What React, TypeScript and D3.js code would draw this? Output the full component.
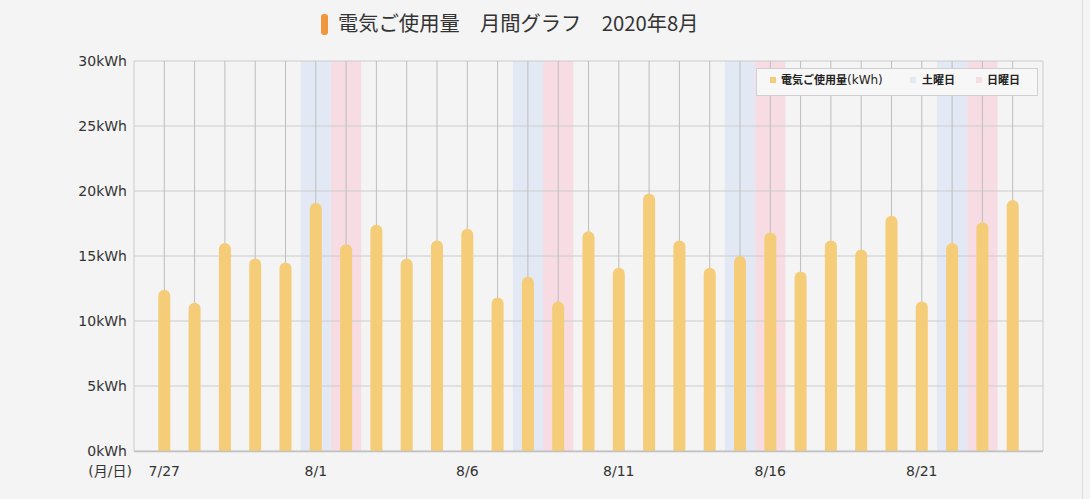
import React from "react";
import * as d3 from "d3";

const dates = ["7/27","7/28","7/29","7/30","7/31","8/1","8/2","8/3","8/4","8/5","8/6","8/7","8/8","8/9","8/10","8/11","8/12","8/13","8/14","8/15","8/16","8/17","8/18","8/19","8/20","8/21","8/22","8/23","8/24"];
const usage = [12.4,11.4,16.0,14.8,14.5,19.1,15.9,17.4,14.8,16.2,17.1,11.8,13.4,11.5,16.9,14.1,19.8,16.2,14.1,15.0,16.8,13.8,16.2,15.5,18.1,11.5,16.0,17.6,19.3];
const saturdays = ["8/1","8/8","8/15","8/22"];
const sundays = ["8/2","8/9","8/16","8/23"];
const xTickLabels = ["7/27","8/1","8/6","8/11","8/16","8/21"];
const yTicks = [0,5,10,15,20,25,30];

const W = 1090, H = 499;
const L = 134, R = 1043, T = 61, B = 451;
const FONT = "'DejaVu Sans', 'Noto Sans CJK JP', sans-serif";
const JFONT = "'Noto Sans CJK JP', 'DejaVu Sans', sans-serif";

export default function App() {
  const x = d3.scalePoint<string>().domain(["_s", ...dates, "_e"]).range([L, R]);
  const step = x.step();
  const y = d3.scaleLinear().domain([0, 30]).range([B, T]);
  const bw = 12;
  const barPath = (cx: number, v: number) => {
    const top = y(v);
    const r = bw / 2;
    const p = d3.path();
    p.moveTo(cx - r, B);
    p.lineTo(cx - r, top + r);
    p.arc(cx, top + r, r, Math.PI, 0);
    p.lineTo(cx + r, B);
    p.closePath();
    return p.toString();
  };
  return (
    <svg width={W} height={H} style={{ position: "absolute", left: 0, top: 0, background: "#f4f4f4" }}>
      <rect x={0} y={0} width={W} height={H} fill="#f4f4f4" />
      <line x1={1082.5} x2={1082.5} y1={0} y2={H} stroke="#dcdcdc" />
      {/* title */}
      <rect x={321} y={14} width={7} height={21} rx={3} fill="#f0963c" />
      <text x={338} y={31} fontSize={20.3} fontFamily={JFONT} fill="#333">電気ご使用量　月間グラフ　2020年8月</text>
      {/* weekend bands */}
      {saturdays.map((d) => (
        <rect key={"sa" + d} x={x(d)! - step / 2} y={T} width={step} height={B - T} fill="#e3e9f4" />
      ))}
      {sundays.map((d) => (
        <rect key={"su" + d} x={x(d)! - step / 2} y={T} width={step} height={B - T} fill="#f7dce3" />
      ))}
      {/* grid */}
      {yTicks.map((t) => (
        <line key={"gy" + t} x1={L} x2={R} y1={y(t)} y2={y(t)} stroke="#cccccc" strokeWidth={1} />
      ))}
      {dates.map((d) => (
        <line key={"gx" + d} x1={x(d)} x2={x(d)} y1={T} y2={B} stroke="#bdbdbd" strokeWidth={1} />
      ))}
      <line x1={L} x2={L} y1={T} y2={B} stroke="#cccccc" />
      <line x1={R} x2={R} y1={T} y2={B} stroke="#cccccc" />
      {/* bars */}
      {dates.map((d, i) => (
        <path key={"b" + d} d={barPath(x(d)!, usage[i])} fill="#f5cc78" />
      ))}
      <line x1={L} x2={R} y1={B + 0.5} y2={B + 0.5} stroke="#c0c0c0" strokeWidth={1.5} />
      {/* y labels */}
      {yTicks.map((t) => (
        <text key={"yl" + t} x={127} y={y(t)} dy="0.35em" textAnchor="end" fontSize={14} fontFamily={FONT} fill="#333">{t}kWh</text>
      ))}
      {/* x labels */}
      <text x={132} y={476} textAnchor="end" fontSize={14} fontFamily={FONT} fill="#333">(月/日)</text>
      {xTickLabels.map((d) => (
        <text key={"xl" + d} x={x(d)} y={476} textAnchor="middle" fontSize={14} fontFamily={FONT} fill="#333">{d}</text>
      ))}
      {/* legend */}
      <rect x={756.5} y={68.5} width={281} height={27} fill="#f7f7f7" stroke="#d0d0d0" />
      <rect x={770} y={77} width={6} height={6} fill="#f5cc78" />
      <text x={781} y={80} dy="0.35em" fontSize={11} fontWeight="bold" fontFamily={JFONT} fill="#222">電気ご使用量<tspan fontFamily={FONT} fontSize={12} fontWeight="normal">(kWh)</tspan></text>
      <rect x={910} y={77} width={6} height={6} fill="#e3e9f4" />
      <text x={922} y={80} dy="0.35em" fontSize={11} fontWeight="bold" fontFamily={JFONT} fill="#222">土曜日</text>
      <rect x={976} y={77} width={6} height={6} fill="#f7dce3" />
      <text x={987} y={80} dy="0.35em" fontSize={11} fontWeight="bold" fontFamily={JFONT} fill="#222">日曜日</text>
    </svg>
  );
}
